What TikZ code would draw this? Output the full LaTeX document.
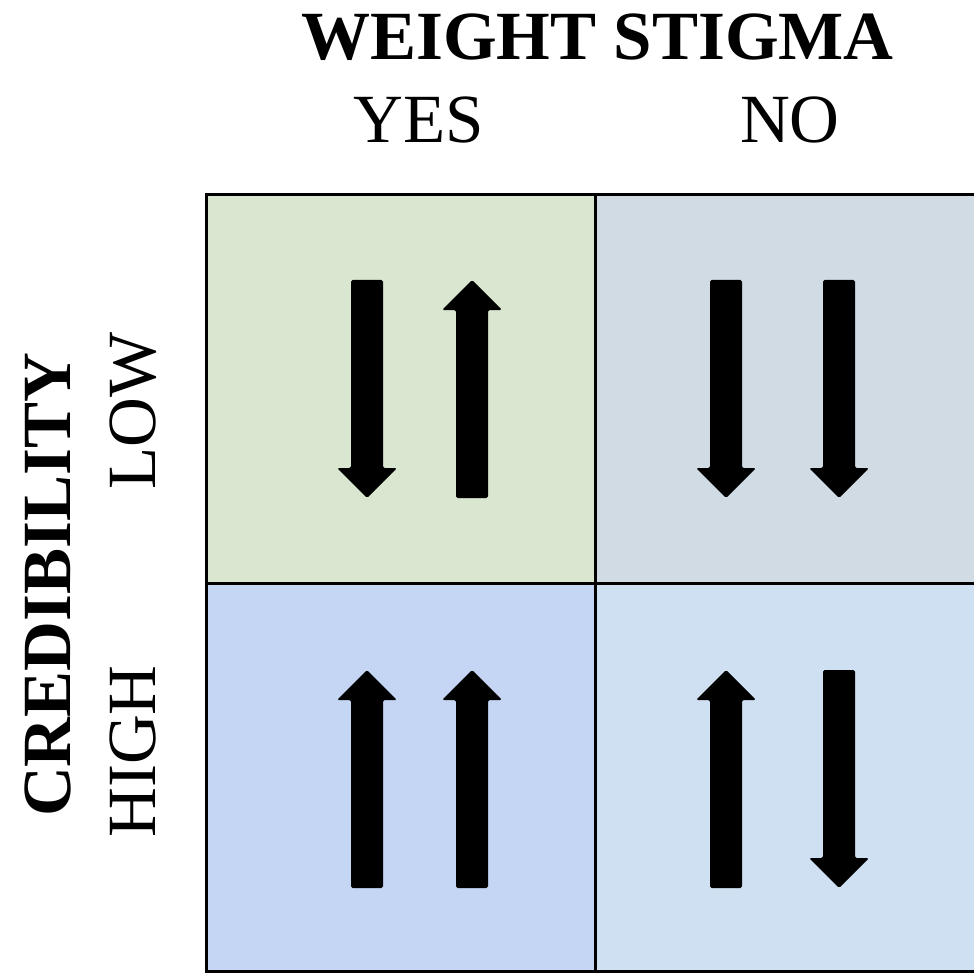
\documentclass[tikz,border=0pt]{standalone}
\usepackage{fontspec}
\setmainfont{Liberation Serif}
\definecolor{cellTL}{RGB}{217,230,208}
\definecolor{cellTR}{RGB}{208,219,227}
\definecolor{cellBL}{RGB}{196,214,244}
\definecolor{cellBR}{RGB}{207,224,242}
\tikzset{
  gridline/.style={draw=black, line width=1.5pt},
  blockarrow/.style={fill=black, rounded corners=0.8pt},
  lbl/.style={inner sep=0pt, anchor=base, font=\fontsize{34.5}{40}\selectfont},
  lblbold/.style={lbl, font=\fontsize{34.5}{40}\selectfont\bfseries},
}
% down arrow: centre x, top y (pixel coordinates)
\newcommand\DArrowShape[2]{%
  \fill[blockarrow] (#1-16,#2) -- (#1+16,#2) -- (#1+16,#2+188) -- (#1+30,#2+188)
    -- (#1,#2+218) -- (#1-30,#2+188) -- (#1-16,#2+188) -- cycle;}
% up arrow: centre x, top y (tip)
\newcommand\UArrowShape[2]{%
  \fill[blockarrow] (#1,#2) -- (#1+30,#2+30) -- (#1+16,#2+30) -- (#1+16,#2+218)
    -- (#1-16,#2+218) -- (#1-16,#2+30) -- (#1-30,#2+30) -- cycle;}
\begin{document}
\begin{tikzpicture}[x=0.5pt,y=-0.5pt]
\clip (0,0) rectangle (974,973);
\fill[white] (0,0) rectangle (974,973);
% cells
\fill[cellTL] (206,195) rectangle (595,583);
\fill[cellTR] (595,195) rectangle (984,583);
\fill[cellBL] (206,583) rectangle (595,971);
\fill[cellBR] (595,583) rectangle (984,971);
\draw[gridline] (206,195) rectangle (984,971);
\draw[gridline] (595,195) -- (595,971);
\draw[gridline] (206,583) -- (984,583);
% arrows
\DArrowShape{367}{280}
\UArrowShape{472}{280}
\DArrowShape{726}{280}
\DArrowShape{839}{280}
\UArrowShape{367}{670}
\UArrowShape{472}{670}
\UArrowShape{726}{670}
\DArrowShape{839}{670}
% labels
\node[lblbold] (ws) at (597.5,60) {WEIGHT STIGMA};
\node[lbl] (yes) at (418.5,143) {YES};
\node[lbl] (no) at (790,143) {NO};
\node[lblbold, rotate=90] (cred) at (70,585) {CREDIBILITY};
\node[lbl, rotate=90] (low) at (155,411) {LOW};
\node[lbl, rotate=90] (high) at (155,751.5) {HIGH};
\end{tikzpicture}
\end{document}
